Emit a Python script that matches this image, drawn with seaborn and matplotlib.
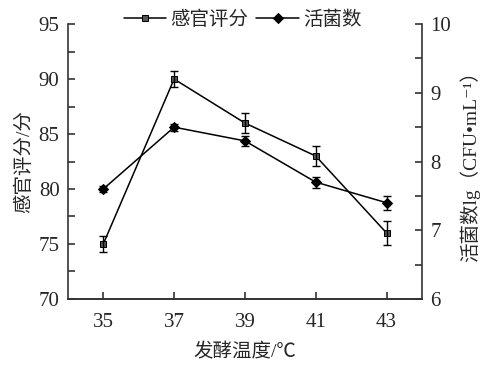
import numpy as np
import pandas as pd
import matplotlib
matplotlib.use("Agg")
import matplotlib.pyplot as plt
import seaborn as sns
from matplotlib.ticker import MultipleLocator

temps       = [35, 37, 39, 41, 43]
score       = [75.0, 90.0, 86.0, 83.0, 76.0]
score_err   = [0.7, 0.7, 0.9, 0.9, 1.1]
count       = [7.6, 8.5, 8.3, 7.7, 7.4]
count_err   = [0.05, 0.05, 0.07, 0.08, 0.10]

sns.set_style("ticks")
plt.rcParams['font.family'] = ['Liberation Serif', 'Noto Sans CJK SC', 'DejaVu Sans']
plt.rcParams['axes.unicode_minus'] = False

df = pd.DataFrame({"temp": temps, "score": score, "count": count})

fig = plt.figure(figsize=(4.85, 3.65), dpi=100)
ax = fig.add_axes([0.140, 0.181, 0.730, 0.753])
ax2 = ax.twinx()

# ── sensory score (left axis) ────────────────────────────────────────────────
sns.lineplot(data=df, x="temp", y="score", ax=ax, color="black", lw=1.1,
             marker="s", markersize=5, markerfacecolor="#555555",
             markeredgecolor="black", label="感官评分", legend=False)
ax.errorbar(temps, score, yerr=score_err, fmt="none", ecolor="black",
            elinewidth=1, capsize=3, capthick=1)

# ── viable count (right axis) ───────────────────────────────────────────────
sns.lineplot(data=df, x="temp", y="count", ax=ax2, color="black", lw=1.1,
             marker="D", markersize=5, markerfacecolor="black",
             markeredgecolor="black", label="活菌数", legend=False)
ax2.errorbar(temps, count, yerr=count_err, fmt="none", ecolor="black",
             elinewidth=1, capsize=3, capthick=1)

ax.set_xlim(34, 44)
ax.set_ylim(70, 95)
ax2.set_ylim(6, 10)
ax.set_xticks(temps)
ax.yaxis.set_major_locator(MultipleLocator(5))
ax.yaxis.set_minor_locator(MultipleLocator(2.5))
ax2.yaxis.set_major_locator(MultipleLocator(1))
ax2.yaxis.set_minor_locator(MultipleLocator(0.5))

for a in (ax, ax2):
    a.spines["top"].set_visible(False)
    for s in a.spines.values():
        s.set_linewidth(1.2)
        s.set_color("#333333")
    a.tick_params(which="both", direction="in", labelsize=15, width=1.2,
                  color="#333333", length=5)
ax.spines["right"].set_visible(False)
ax2.spines["left"].set_visible(False)
ax.tick_params(axis="x", pad=10)
ax.tick_params(axis="y", pad=6)
ax2.tick_params(axis="y", pad=6)

ax.set_xlabel("发酵温度/℃", fontsize=14, labelpad=8)
ax.set_ylabel("感官评分/分", fontsize=14, labelpad=4)
ax2.set_ylabel("活菌数lg（CFU•mL⁻¹）", fontsize=14, labelpad=6)

h1, l1 = ax.get_legend_handles_labels()
h2, l2 = ax2.get_legend_handles_labels()
fig.legend(h1 + h2, l1 + l2, loc="upper center", bbox_to_anchor=(0.5, 1.02),
           ncol=2, frameon=False, fontsize=14, handlelength=2.2,
           handletextpad=0.2, columnspacing=0.4)

fig.savefig("out.png", dpi=100)
